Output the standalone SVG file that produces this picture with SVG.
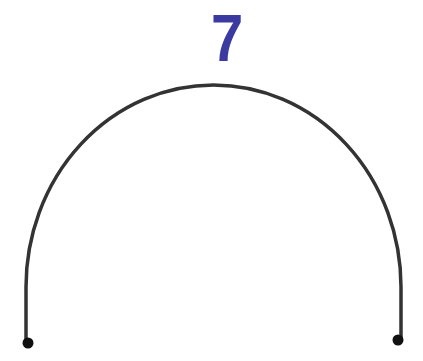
<svg xmlns="http://www.w3.org/2000/svg" width="423" height="361" viewBox="0 0 423 361">
<style>
.arc{fill:none;stroke:#333;stroke-width:3.5}
.dot{fill:#111}
.lbl{font-family:"Liberation Sans",Arial,sans-serif;font-weight:bold;font-size:58px;fill:#3a3aa0}
</style>
<rect width="423" height="361" fill="#fff"/>
<g id="connectors">
<path class="arc" d="M26,342 L26,287 A187.5,202 0 0 1 401,287 L401,340"/>
</g>
<g id="n1"><circle class="dot" cx="28" cy="343" r="5.5"/></g>
<g id="n2"><circle class="dot" cx="398" cy="340" r="5.5"/></g>
<g id="label"><text class="lbl" transform="translate(227,61) scale(1,1.15)" x="0" y="0" text-anchor="middle">7</text></g>
</svg>
